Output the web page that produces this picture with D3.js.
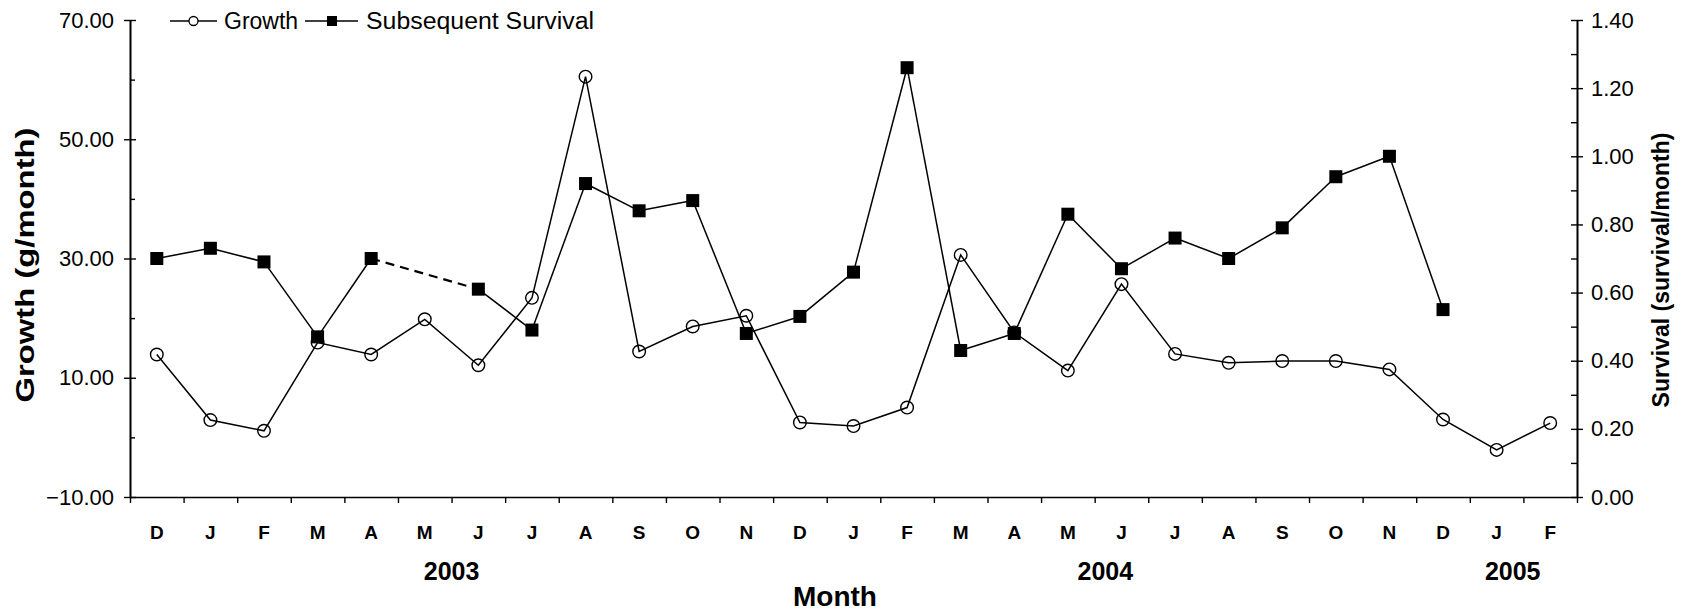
<!DOCTYPE html>
<html>
<head>
<meta charset="utf-8">
<script src="https://cdn.jsdelivr.net/npm/d3@7"></script>
<style>
  html, body { margin: 0; padding: 0; background: #fff; }
  svg { display: block; }
  text { font-family: "Liberation Sans", Arial, sans-serif; fill: #000; }
</style>
</head>
<body>
<svg id="chart" width="1691" height="613"></svg>
<script>
// ---------------- data ----------------
const months = ["D","J","F","M","A","M","J","J","A","S","O","N","D","J","F","M","A","M","J","J","A","S","O","N","D","J","F"];
const growth = [13.9, 2.9, 1.1, 15.9, 13.9, 19.8, 12.1, 23.4, 60.5, 14.4, 18.6, 20.4, 2.5, 1.9, 5.0, 30.6, 17.6, 11.2, 25.7, 14.0, 12.5, 12.8, 12.8, 11.4, 3.0, -2.1, 2.4];
const survival = [0.70, 0.73, 0.69, 0.47, 0.70, null, 0.61, 0.49, 0.92, 0.84, 0.87, 0.48, 0.53, 0.66, 1.26, 0.43, 0.48, 0.83, 0.67, 0.76, 0.70, 0.79, 0.94, 1.00, 0.55, null, null];
const growthTicks = [-10, 10, 30, 50, 70];
const growthMinor = [0, 20, 40, 60];
const survivalTicks = [0, 0.2, 0.4, 0.6, 0.8, 1.0, 1.2, 1.4];
const survivalMinor = [0.1, 0.3, 0.5, 0.7, 0.9, 1.1, 1.3];
const years = ["2003", "2004", "2005"];
const yearAt = [6.0, 18.2, 25.8];   // in month-index units
const legendLabels = ["Growth", "Subsequent Survival"];
const leftTitle = "Growth (g/month)";
const rightTitle = "Survival (survival/month)";
const xTitle = "Month";

// ---------------- layout ----------------
const L = 130, R = 1577, T = 20, B = 497;
const svg = d3.select("#chart");

const x = d3.scaleBand().domain(d3.range(months.length)).range([L, R]).padding(0);
const xIdx = d3.scaleLinear().domain([0, months.length]).range([L, R]);
const yL = d3.scaleLinear().domain([-10, 70]).range([B, T]);
const yR = d3.scaleLinear().domain([0, 1.4]).range([B, T]);
const cx = i => x(i) + x.bandwidth() / 2;

const axisStyle = g => {
  g.select(".domain").attr("stroke", "#000").attr("stroke-width", 1.6);
  g.selectAll(".tick line").attr("stroke", "#000").attr("stroke-width", 1.4);
  g.selectAll(".tick text").style("font-size", "22px").attr("fill", "#000");
};

// left axis
svg.append("g").attr("transform", `translate(${L},0)`)
  .call(d3.axisLeft(yL).tickValues(growthTicks).tickSize(6).tickSizeOuter(0).tickPadding(10).tickFormat(d3.format(".2f")))
  .call(axisStyle)
  .call(g => g.selectAll(".tick line").attr("x1", 6));
svg.append("g").attr("transform", `translate(${L},0)`)
  .call(d3.axisRight(yL).tickValues(growthMinor).tickSize(5).tickSizeOuter(0).tickFormat(""))
  .call(axisStyle);

// right axis
svg.append("g").attr("transform", `translate(${R},0)`)
  .call(d3.axisRight(yR).tickValues(survivalTicks).tickSize(6).tickSizeOuter(0).tickPadding(8).tickFormat(d3.format(".2f")))
  .call(axisStyle)
  .call(g => g.selectAll(".tick line").attr("x1", -6));
svg.append("g").attr("transform", `translate(${R},0)`)
  .call(d3.axisLeft(yR).tickValues(survivalMinor).tickSize(6).tickSizeOuter(0).tickFormat(""))
  .call(axisStyle);

// bottom axis: ticks at band boundaries
svg.append("g").attr("transform", `translate(0,${B})`)
  .call(d3.axisBottom(xIdx).tickValues(d3.range(months.length + 1)).tickSize(6).tickSizeOuter(0).tickFormat(""))
  .call(axisStyle);
// month labels
svg.append("g").attr("transform", `translate(0,${B})`)
  .call(d3.axisBottom(x).tickSize(0).tickPadding(42).tickFormat(i => months[i]))
  .call(g => g.select(".domain").remove())
  .call(g => g.selectAll(".tick text").style("font-size", "19px").style("font-weight", "bold").attr("dy", "0"));

// year labels
svg.append("g").selectAll("text").data(years).join("text")
  .attr("x", (d, i) => xIdx(yearAt[i]))
  .attr("y", 580)
  .attr("text-anchor", "middle")
  .style("font-size", "25px").style("font-weight", "bold")
  .text(d => d);

// axis titles
svg.append("text").attr("x", 835).attr("y", 606).attr("text-anchor", "middle")
  .style("font-size", "28px").style("font-weight", "bold").text(xTitle);
svg.append("text").attr("transform", `translate(34,265) rotate(-90)`)
  .attr("text-anchor", "middle")
  .attr("textLength", 275).attr("lengthAdjust", "spacingAndGlyphs")
  .style("font-size", "25px").style("font-weight", "bold").text(leftTitle);
svg.append("text").attr("transform", `translate(1669,270) rotate(-90)`)
  .attr("text-anchor", "middle")
  .style("font-size", "23px").style("font-weight", "bold").text(rightTitle);

// ---------------- series ----------------
const gLine = d3.line().x((d, i) => cx(i)).y(d => yL(d));
svg.append("path").datum(growth)
  .attr("d", gLine).attr("fill", "none").attr("stroke", "#000").attr("stroke-width", 1.5);

// survival: solid where consecutive, dashed across a gap
const sPts = survival.map((v, i) => ({ i, v })).filter(d => d.v !== null);
const sLine = d3.line().x(d => cx(d.i)).y(d => yR(d.v));
for (let k = 1; k < sPts.length; k++) {
  const a = sPts[k - 1], b = sPts[k];
  const gap = b.i - a.i > 1;
  svg.append("path").datum([a, b])
    .attr("d", sLine).attr("fill", "none").attr("stroke", "#000")
    .attr("stroke-width", gap ? 2.2 : 1.5)
    .attr("stroke-dasharray", gap ? "9,6" : null);
}

svg.append("g").selectAll("circle").data(growth).join("circle")
  .attr("cx", (d, i) => cx(i)).attr("cy", d => yL(d)).attr("r", 6.3)
  .attr("fill", "none").attr("stroke", "#000").attr("stroke-width", 1.4);

const sq = 13;
svg.append("g").selectAll("rect").data(sPts).join("rect")
  .attr("x", d => cx(d.i) - sq / 2).attr("y", d => yR(d.v) - sq / 2)
  .attr("width", sq).attr("height", sq).attr("fill", "#000");

// ---------------- legend ----------------
const leg = svg.append("g");
const ly = 21;
leg.append("line").attr("x1", 170).attr("x2", 217).attr("y1", ly).attr("y2", ly).attr("stroke", "#000").attr("stroke-width", 1.4);
leg.append("circle").attr("cx", 193.5).attr("cy", ly).attr("r", 4.5).attr("fill", "#fff").attr("stroke", "#000").attr("stroke-width", 1.3);
leg.append("text").attr("x", 224).attr("y", ly + 8).style("font-size", "23px").text(legendLabels[0]);
leg.append("line").attr("x1", 305).attr("x2", 358).attr("y1", ly).attr("y2", ly).attr("stroke", "#000").attr("stroke-width", 1.4);
leg.append("rect").attr("x", 332 - 5).attr("y", ly - 5).attr("width", 10).attr("height", 10).attr("fill", "#000");
leg.append("text").attr("x", 366).attr("y", ly + 8).style("font-size", "23px")
  .attr("textLength", 228).attr("lengthAdjust", "spacingAndGlyphs").text(legendLabels[1]);
</script>
</body>
</html>
